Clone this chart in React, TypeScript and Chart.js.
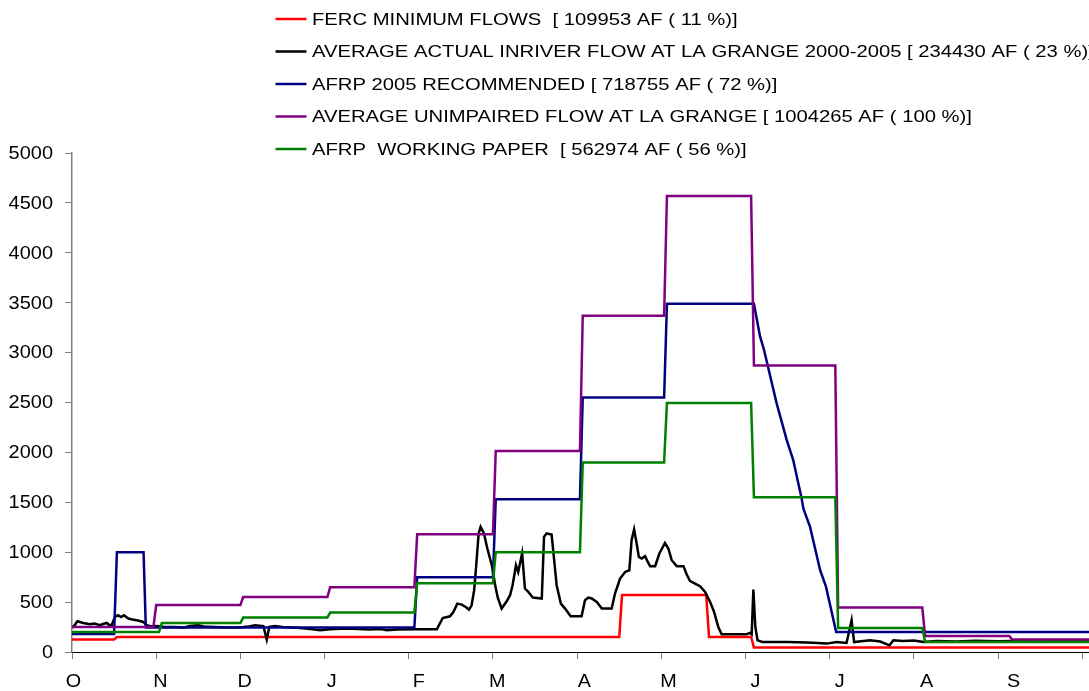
import React, { useEffect, useRef } from "react";
import { Chart, registerables } from "chart.js";

Chart.register(...registerables);

// day of water year (0 = Oct 1), flow in cfs
const monthLabels = ["O", "N", "D", "J", "F", "M", "A", "M", "J", "J", "A", "S"];
const monthStartDays = [0, 31, 61, 92, 123, 151, 182, 212, 243, 273, 304, 335];
const tickDays = [0, 30, 60, 90, 120, 150, 180, 210, 240, 270, 300, 330, 360];
const yTicks = [0, 500, 1000, 1500, 2000, 2500, 3000, 3500, 4000, 4500, 5000];

const fercMinimum = [
  [0, 125], [15, 125], [16, 150], [195, 150], [196, 570], [226, 570],
  [227, 150], [242, 150], [243, 45], [365, 45],
];

const actualInriver = [
  [0, 255], [0.5, 251], [1.9, 308], [4, 291], [6.4, 278], [8, 285], [10, 268], [11, 280],
  [12.4, 291], [13, 275], [14.1, 265], [15.3, 351], [16.4, 368], [17.5, 350], [18.5, 368],
  [20.1, 335], [21.5, 325], [23.1, 318], [25.4, 301], [26.6, 268], [28, 258], [30.2, 261],
  [33, 250], [36.1, 251], [40, 245], [42, 260], [45, 268], [47, 255], [50.4, 251], [54, 248],
  [57.5, 245], [61, 250], [63, 255], [65.2, 268], [68.2, 258], [69.4, 124], [70.3, 251],
  [72.3, 261], [75, 250], [78, 245], [81.3, 241], [85, 230], [88.4, 218], [92, 228],
  [97.9, 235], [102, 230], [106, 225], [110, 230], [112.2, 218], [116, 225], [122.8, 228],
  [130, 228], [132.1, 341], [134.7, 358], [135.9, 401], [137.3, 485], [138.9, 475],
  [140.3, 451], [141.5, 425], [142.4, 468], [143.3, 619], [144, 853], [144.9, 1188],
  [145.6, 1254], [146.8, 1188], [148, 1037], [149.6, 870], [150.8, 669], [151.7, 546],
  [153.1, 435], [154.9, 508], [156.1, 569], [157, 669], [158.2, 870], [159, 802],
  [160.4, 987], [161.4, 636], [162.6, 602], [164.2, 546], [167.4, 536], [168.2, 1154],
  [169.1, 1188], [170.9, 1178], [171.7, 953], [172.7, 669], [174.2, 485], [175.7, 435],
  [177.7, 358], [181.6, 358], [182.8, 519], [184, 546], [185.2, 536], [187, 502],
  [188.8, 435], [192.3, 435], [193.5, 586], [195.3, 736], [197.1, 802], [198.6, 819],
  [199.4, 1120], [200.3, 1228], [201.2, 1087], [202, 953], [203, 937], [204.2, 960],
  [205, 913], [206, 860], [207.8, 860], [209.3, 987], [211.3, 1093], [212.5, 1037],
  [213.7, 920], [215.5, 860], [217.9, 860], [218.9, 786], [220.2, 712], [222, 686],
  [223.8, 659], [225.6, 602], [227.4, 502], [228.8, 401], [230.3, 251], [231.5, 178],
  [240.4, 178], [241.6, 191], [242.2, 178], [242.8, 626], [243.5, 251], [244.3, 117],
  [246, 100], [255, 100], [262, 95], [269, 84], [272.5, 100], [276, 90], [277.8, 318],
  [278.7, 100], [284.4, 117], [288, 105], [291.3, 67], [292.7, 117], [296, 110], [300, 115],
  [303.4, 100], [308, 110], [315, 105], [322, 112], [330, 108], [338, 112], [345, 105],
  [352, 110], [360, 108], [365, 110],
];

const afrp2005 = [
  [0, 180], [15, 180], [16, 1000], [25.5, 1000], [26.3, 245], [122, 245], [123, 750],
  [150, 750], [151, 1530], [181, 1530], [182, 2550], [211, 2550], [212, 3490], [243, 3490],
  [245.2, 3160], [246.6, 3026], [251.1, 2491], [254.7, 2123], [257, 1923], [260, 1539],
  [260.6, 1438], [263, 1254], [266.6, 820], [268.7, 652], [272.3, 200], [365, 200],
];

const unimpaired = [
  [0, 250], [29, 250], [30, 470], [60, 470], [61, 550], [91, 550], [92, 650], [122, 650],
  [123, 1180], [150, 1180], [151, 2015], [181, 2015], [182, 3370], [211, 3370], [212, 4570],
  [242, 4570], [243, 2870], [272, 2870], [273, 445], [303, 445], [304, 160], [334, 160],
  [335, 125], [365, 125],
];

const workingPaper = [
  [0, 200], [31, 200], [32, 290], [60, 290], [61, 345], [91, 345], [92, 395], [122, 395],
  [123, 690], [150, 690], [151, 1000], [181, 1000], [182, 1900], [211, 1900], [212, 2495],
  [242, 2495], [243, 1550], [272, 1550], [273, 240], [303, 240], [304, 100], [365, 100],
];

const seriesLabels = [
  "FERC MINIMUM FLOWS  [ 109953 AF ( 11 %)]",
  "AVERAGE ACTUAL INRIVER FLOW AT LA GRANGE 2000-2005 [ 234430 AF ( 23 %)]",
  "AFRP 2005 RECOMMENDED [ 718755 AF ( 72 %)]",
  "AVERAGE UNIMPAIRED FLOW AT LA GRANGE [ 1004265 AF ( 100 %)]",
  "AFRP  WORKING PAPER  [ 562974 AF ( 56 %)]",
];
const seriesColors = ["#FF0000", "#000000", "#000080", "#800080", "#008000"];
const seriesData = [fercMinimum, actualInriver, afrp2005, unimpaired, workingPaper];

const FONT = "'Liberation Sans', Arial, sans-serif";

// the original text is drawn a little wider than plain Arial
function wideText(ctx, text, x, y, align, size, sx) {
  ctx.save();
  ctx.translate(x, y);
  ctx.scale(sx, 1);
  ctx.font = `${size}px ${FONT}`;
  ctx.textAlign = align;
  ctx.textBaseline = "middle";
  ctx.fillStyle = "#000";
  ctx.fillText(text, 0, 0);
  ctx.restore();
}

const textLayer = {
  id: "textLayer",
  afterDraw(chart) {
    const ctx = chart.ctx;
    const { x, y } = chart.scales;

    yTicks.forEach((v) => {
      wideText(ctx, String(v), 53, y.getPixelForValue(v) + 1, "right", 17.5, 1.14);
    });
    monthLabels.forEach((m, i) => {
      wideText(ctx, m, x.getPixelForValue(monthStartDays[i]) + 1.5, 682, "center", 18, 1.1);
    });

    seriesLabels.forEach((label, i) => {
      const ly = 19 + i * 32.5;
      ctx.save();
      ctx.strokeStyle = seriesColors[i];
      ctx.lineWidth = 2.5;
      ctx.beginPath();
      ctx.moveTo(275.5, ly);
      ctx.lineTo(306.5, ly);
      ctx.stroke();
      ctx.restore();
      wideText(ctx, label, 312, ly + 1, "left", 17, 1.19);
    });
  },
};

export default function App() {
  const canvasRef = useRef<HTMLCanvasElement>(null);

  useEffect(() => {
    document.body.style.margin = "0";
    const ctx = canvasRef.current?.getContext("2d");
    if (!ctx) return;

    const chart = new Chart(ctx, {
      type: "line",
      data: {
        datasets: seriesData.map((points, i) => ({
          label: seriesLabels[i],
          data: points.map(([px, py]) => ({ x: px, y: py })),
          borderColor: seriesColors[i],
          backgroundColor: seriesColors[i],
          borderWidth: 2.5,
          pointRadius: 0,
          tension: 0,
          fill: false,
          order: seriesData.length - i,
        })),
      },
      options: {
        responsive: false,
        animation: false,
        layout: { padding: { top: 153, left: 0, right: 0, bottom: 0 } },
        plugins: {
          legend: { display: false },
          tooltip: { enabled: false },
        },
        scales: {
          x: {
            type: "linear",
            min: 0,
            max: 362.4,
            afterBuildTicks: (scale) => {
              scale.ticks = tickDays.map((d) => ({ value: d }));
            },
            afterFit: (scale) => {
              scale.height = 39;
            },
            ticks: { display: false },
            grid: { drawOnChartArea: false, drawTicks: true, tickLength: 7, color: "#808080" },
            border: { color: "#000", width: 1 },
          },
          y: {
            min: 0,
            max: 5000,
            afterBuildTicks: (scale) => {
              scale.ticks = yTicks.map((v) => ({ value: v }));
            },
            afterFit: (scale) => {
              scale.width = 72;
            },
            ticks: { display: false },
            grid: { drawOnChartArea: false, drawTicks: true, tickLength: 7, color: "#808080" },
            border: { color: "#808080", width: 1.5 },
          },
        },
      },
      plugins: [textLayer],
    });

    return () => chart.destroy();
  }, []);

  return (
    <div style={{ position: "relative", width: 1089, height: 691 }}>
      <canvas ref={canvasRef} width={1089} height={691} style={{ display: "block" }} />
    </div>
  );
}
